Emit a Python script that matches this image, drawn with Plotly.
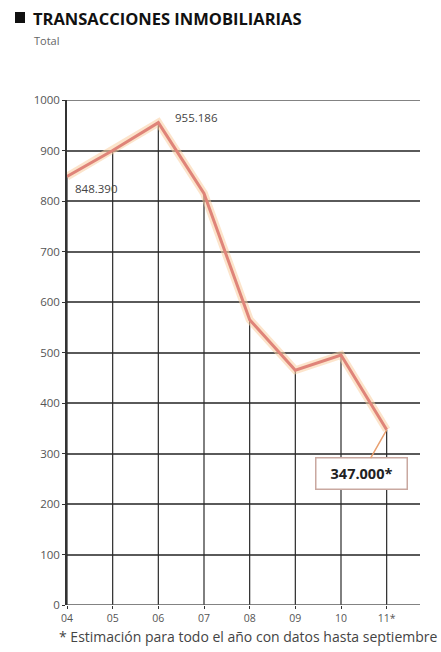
import plotly.graph_objects as go

# Real-estate transactions per year (thousands); 2011 is an estimate
years = ["04", "05", "06", "07", "08", "09", "10", "11*"]
values = [848.390, 900, 955.186, 815, 565, 465, 495, 347.000]
y_ticks = [0, 100, 200, 300, 400, 500, 600, 700, 800, 900, 1000]

FONT = "Open Sans"
idx = list(range(len(years)))

fig = go.Figure()

# drop lines from the baseline up to each value
drop_x, drop_y = [], []
for i, v in zip(idx, values):
    drop_x += [i, i, None]
    drop_y += [0, v, None]
fig.add_trace(go.Scatter(x=drop_x, y=drop_y, mode="lines",
                         line=dict(color="#2a2a2a", width=1.2),
                         hoverinfo="skip", showlegend=False))

# soft halo under the series line
fig.add_trace(go.Scatter(x=idx, y=values, mode="lines",
                         line=dict(color="rgba(250,205,160,0.55)", width=8),
                         hoverinfo="skip", showlegend=False))
fig.add_trace(go.Scatter(x=idx, y=values, mode="lines",
                         line=dict(color="#df8479", width=3),
                         showlegend=False))

fig.update_layout(
    width=441, height=652,
    margin=dict(l=67, r=21, t=100, b=47),
    paper_bgcolor="white", plot_bgcolor="white",
    font=dict(family=FONT, color="#444"),
    xaxis=dict(range=[0, 7.73], tickmode="array", tickvals=idx, ticktext=years,
               showgrid=False, zeroline=False, showline=False,
               ticks="outside", ticklen=3, tickcolor="#333",
               tickfont=dict(size=10.5, color="#555", family=FONT)),
    yaxis=dict(range=[0, 1000], tickmode="array", tickvals=y_ticks,
               showgrid=True, gridcolor="#5a5a5a", gridwidth=1.6,
               zeroline=False, showline=True, linecolor="#333", linewidth=1.5,
               ticks="outside", ticklen=3, tickcolor="#333",
               tickfont=dict(size=11.5, color="#555", family=FONT)),
)

# baseline at zero and top rule at 1000
for yv in (0, 1000):
    fig.add_shape(type="line", xref="x", yref="y", x0=0, x1=7.73, y0=yv, y1=yv,
                  line=dict(color="#5a5a5a", width=1.6))

fig.add_annotation(x=2, y=values[2], text="955.186", showarrow=False,
                   xanchor="left", yanchor="middle", xshift=15, yshift=5,
                   font=dict(size=11.5, color="#444", family=FONT))
fig.add_annotation(x=0, y=values[0], text="848.390", showarrow=False,
                   xanchor="left", yanchor="top", xshift=6, yshift=-2,
                   font=dict(size=11.5, color="#444", family=FONT))
fig.add_annotation(x=7, y=values[7], text="<b>347.000*</b>", showarrow=True,
                   arrowhead=0, arrowcolor="#e8a070", arrowwidth=1.5,
                   ax=-25, ay=44, xanchor="center", width=80, height=20,
                   bgcolor="white", bordercolor="#c9a8a0", borderwidth=1.5, borderpad=5,
                   font=dict(size=14.5, color="#222", family=FONT))

# title block
def px_x(p):
    return (p - 67) / 353

def px_y(p):
    return (605 - p) / 505

fig.add_shape(type="rect", xref="paper", yref="paper",
              x0=px_x(15), x1=px_x(25), y0=px_y(23), y1=px_y(12),
              fillcolor="#111", line=dict(width=0))
fig.add_annotation(xref="paper", yref="paper", x=px_x(31), y=px_y(18),
                   xanchor="left", yanchor="middle",
                   text="<b>TRANSACCIONES INMOBILIARIAS</b>", showarrow=False,
                   font=dict(size=16.5, color="#111", family=FONT))
fig.add_annotation(xref="paper", yref="paper", x=px_x(32), y=px_y(41),
                   xanchor="left", yanchor="middle",
                   text="Total", showarrow=False,
                   font=dict(size=11, color="#666", family=FONT))
fig.add_annotation(xref="paper", yref="paper", x=px_x(440), y=px_y(636),
                   xanchor="right", yanchor="middle",
                   text="* Estimación para todo el año con datos hasta septiembre", showarrow=False,
                   font=dict(size=14, color="#444", family=FONT))

fig.write_html("out.html")
